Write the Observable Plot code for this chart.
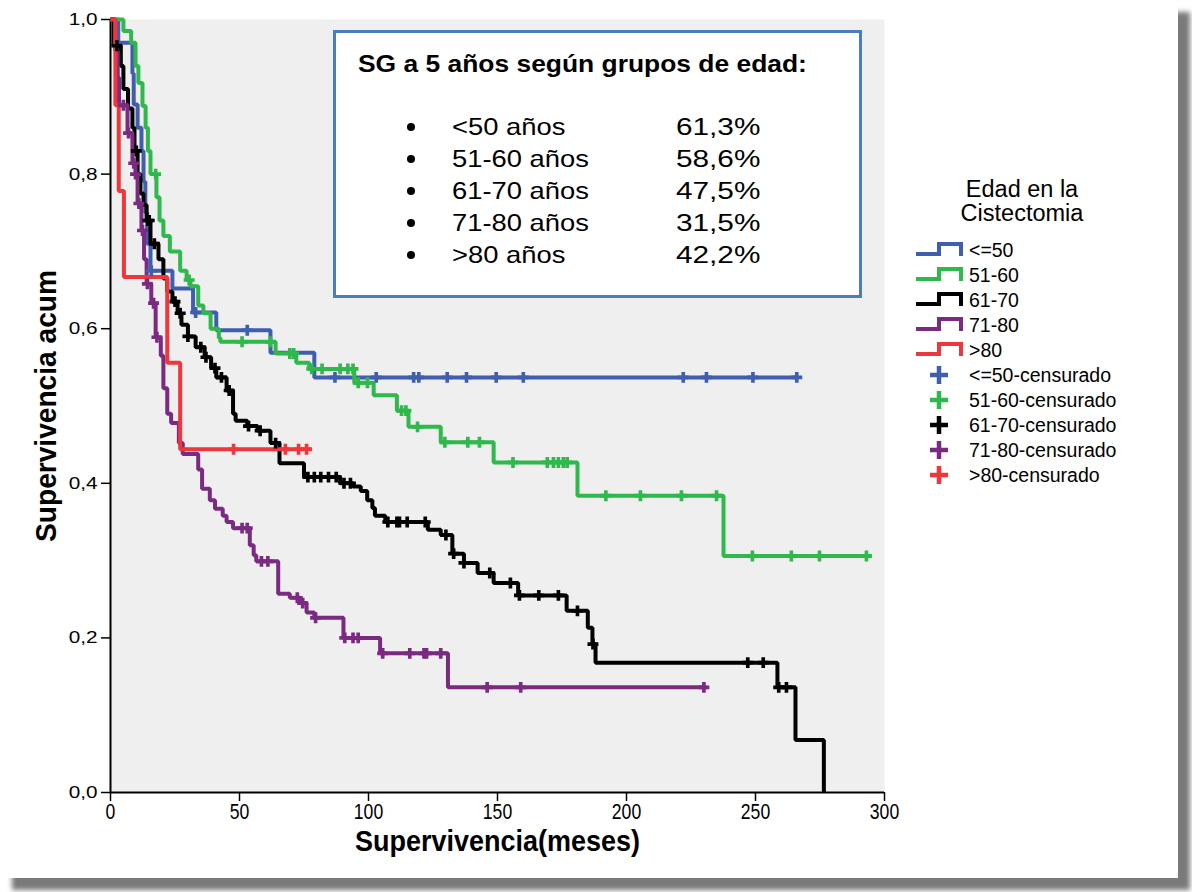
<!DOCTYPE html>
<html>
<head>
<meta charset="utf-8">
<script src="https://cdn.jsdelivr.net/npm/d3@7"></script>
<script src="https://cdn.jsdelivr.net/npm/@observablehq/plot@0.6"></script>
<style>
  html, body { margin: 0; padding: 0; background: #ffffff; }
  body { width: 1192px; height: 892px; position: relative; overflow: hidden; font-family: "Liberation Sans", Arial, sans-serif; }
  #page { position: absolute; left: 0; top: 0; width: 1178px; height: 878px; background: #fff; box-shadow: 12px 12px 5px #7a7a7a; }
  #chart { position: absolute; left: 0; top: 0; }
  #box { position: absolute; left: 333px; top: 30px; width: 523px; height: 262px; border: 3.5px solid #4a7dbd; background: #fff; color: #000; }
  #box .title { position: absolute; left: 22px; top: 17px; font-weight: bold; font-size: 24px; white-space: nowrap; transform: scaleX(1.1); transform-origin: left center; }
  #box .row { position: absolute; left: 0; font-size: 24px; white-space: nowrap; height: 26px; line-height: 26px; }
  #box .row .dot { position: absolute; left: 71px; top: 9px; width: 8px; height: 8px; border-radius: 50%; background: #000; }
  #box .row .lab { position: absolute; left: 116px; transform: scaleX(1.14); transform-origin: left center; }
  #box .row .val { position: absolute; left: 340px; transform: scaleX(1.24); transform-origin: left center; }
  #legend { position: absolute; left: 910px; top: 177px; width: 230px; }
  #legend .ttl { position: absolute; left: 0; width: 224px; text-align: center; font-size: 23.5px; line-height: 24px; }
  #legend .item { position: absolute; left: 0; height: 22px; font-size: 19.5px; line-height: 22px; white-space: nowrap; }
  #legend .item svg { position: absolute; left: 0; top: 0; }
  #legend .item span { position: absolute; left: 59px; }
</style>
</head>
<body>
<div id="page"></div>
<div id="chart"></div>
<div id="box"></div>
<div id="legend"></div>
<script>
// Age groups and their colours
const groups = ["<=50", "51-60", "61-70", "71-80", ">80"];
const colors = ["#3f5fae", "#2fb84b", "#000000", "#7b2a82", "#f0363d"];

// Kaplan–Meier steps per group: event times (months) and survival after each step
const t50 = [0, 3, 8.5, 9, 10.5, 12, 12.8, 13.5, 14.2, 15.5, 24, 32, 41, 62, 79];
const s50 = [1, 0.97, 0.93, 0.89, 0.86, 0.83, 0.79, 0.75, 0.71, 0.675, 0.652, 0.621, 0.598, 0.569, 0.537];
const c50 = [15.8, 33, 53, 87, 103, 117.5, 119.5, 130.5, 138, 149.5, 160, 222, 231, 249, 266];
const end50 = 266;

const t60 = [0, 5, 8, 9.7, 10.8, 12.4, 13.6, 14.5, 15.5, 17.8, 19, 20.5, 23, 27, 29.5, 31, 34, 36, 38.8, 42, 42.6, 64, 72, 77, 94.5, 102, 111, 115.5, 128, 148.5, 181, 237.6];
const s60 = [1, 0.985, 0.97, 0.94, 0.918, 0.888, 0.86, 0.83, 0.80, 0.77, 0.74, 0.72, 0.70, 0.675, 0.663, 0.655, 0.63, 0.62, 0.60, 0.588, 0.583, 0.568, 0.556, 0.548, 0.53, 0.514, 0.494, 0.473, 0.453, 0.427, 0.384, 0.306];
const c60 = [17.5, 30.5, 51, 62, 69.5, 71, 78, 82, 89, 92, 94, 96, 99.6, 112.8, 114.5, 119, 129.6, 138.5, 143, 156, 169.3, 171.7, 173.6, 175.5, 177, 192, 205.4, 221.3, 234.9, 248.8, 263.9, 274.8, 293];
const end60 = 295;

const t70 = [0, 1.2, 4, 5, 6.8, 8.5, 9.3, 10.5, 11.6, 12.8, 14, 15.5, 18.6, 20.5, 22, 24, 26, 27.5, 30, 33, 36.5, 39, 41, 45, 47.5, 48.5, 53, 57, 62, 65.5, 75, 89, 94, 97, 99.5, 101.5, 102.5, 106.5, 123, 128, 132.5, 137, 142.3, 148.5, 158, 176.8, 185, 186.8, 188, 258.5, 265.5, 276.5];
const s70 = [1, 0.966, 0.94, 0.91, 0.885, 0.86, 0.83, 0.80, 0.775, 0.76, 0.74, 0.71, 0.69, 0.665, 0.648, 0.635, 0.62, 0.605, 0.59, 0.576, 0.563, 0.549, 0.537, 0.52, 0.49, 0.481, 0.474, 0.468, 0.452, 0.426, 0.408, 0.40, 0.396, 0.39, 0.378, 0.368, 0.358, 0.35, 0.34, 0.333, 0.309, 0.297, 0.284, 0.271, 0.255, 0.235, 0.213, 0.192, 0.168, 0.136, 0.068, 0];
const c70 = [2.5, 10, 14.5, 15, 17, 25, 27, 30, 35, 37, 40.5, 43, 46, 53.5, 58, 64, 76.5, 79, 81.5, 84.5, 87.5, 90.5, 93, 107.5, 111, 112, 115, 122, 130, 133, 137, 147, 155, 158.5, 166, 173.6, 181, 187, 247, 253, 259, 262];
const end70 = 276.5;

const t80 = [0, 1.8, 2.8, 3.3, 6.6, 8.5, 9.7, 10.5, 12, 13, 14, 15.8, 17.5, 19.5, 20.5, 22, 23.5, 26.5, 28, 34, 35.5, 38.5, 40.5, 43.5, 45, 47.5, 54, 55.5, 56.5, 65, 69.5, 73.5, 76, 79, 90.3, 104.5, 130.8];
const s80 = [1, 0.96, 0.925, 0.889, 0.853, 0.814, 0.80, 0.762, 0.727, 0.69, 0.658, 0.633, 0.589, 0.565, 0.523, 0.49, 0.478, 0.452, 0.438, 0.418, 0.393, 0.378, 0.367, 0.358, 0.35, 0.342, 0.32, 0.307, 0.299, 0.257, 0.252, 0.245, 0.233, 0.226, 0.2, 0.18, 0.136];
const c80 = [5, 7, 9, 9.7, 11, 12.4, 14.3, 16.7, 18, 51, 53, 58.5, 61, 72.4, 74.5, 79.5, 90.8, 94, 96, 105.5, 116, 121.5, 122.5, 128, 146, 159, 230];
const end80 = 231;

const t81 = [0, 1.9, 3.2, 5.2, 22, 27];
const s81 = [1, 0.889, 0.778, 0.667, 0.556, 0.444];
const c81 = [47.7, 67.8, 72.9, 76];
const end81 = 78;

// Axis ticks and titles
const xTicks = [0, 50, 100, 150, 200, 250, 300];
const yTicks = [0, 0.2, 0.4, 0.6, 0.8, 1.0];
const xTitle = "Supervivencia(meses)";
const yTitle = "Supervivencia acum";

// 5-year overall survival summary
const summaryTitle = "SG a 5 años según grupos de edad:";
const summaryLabels = ["<50 años", "51-60 años", "61-70 años", "71-80 años", ">80 años"];
const summaryValues = ["61,3%", "58,6%", "47,5%", "31,5%", "42,2%"];

const series = [
  {g: groups[0], t: t50, s: s50, c: c50, end: end50},
  {g: groups[1], t: t60, s: s60, c: c60, end: end60},
  {g: groups[2], t: t70, s: s70, c: c70, end: end70},
  {g: groups[3], t: t80, s: s80, c: c80, end: end80},
  {g: groups[4], t: t81, s: s81, c: c81, end: end81}
];

// survival value of a step curve at time x
function survAt(ts, ss, x) {
  let v = ss[0];
  for (let i = 0; i < ts.length; i++) if (ts[i] <= x) v = ss[i];
  return v;
}

const lineRows = [];
const censorRows = [];
for (const d of series) {
  d.t.forEach((t, i) => lineRows.push({group: d.g, t, s: d.s[i]}));
  if (d.end > d.t[d.t.length - 1]) lineRows.push({group: d.g, t: d.end, s: d.s[d.s.length - 1]});
  d.c.forEach(t => censorRows.push({group: d.g, t, s: survAt(d.t, d.s, t)}));
}

const fmt = v => v.toFixed(1).replace(".", ",");

const chart = Plot.plot({
  width: 900,
  height: 870,
  marginLeft: 110,
  marginRight: 16,
  marginTop: 19,
  marginBottom: 78,
  style: {background: "transparent", fontFamily: "Liberation Sans, Arial, sans-serif", color: "#000"},
  x: {domain: [0, 300]},
  y: {domain: [0, 1]},
  color: {domain: groups, range: colors},
  marks: [
    Plot.frame({fill: "#efefef", stroke: "none"}),
    Plot.axisY(yTicks, {tickSize: 9, tickPadding: 4, fontSize: 17, tickFormat: fmt, label: null, strokeWidth: 1.5}),
    Plot.axisX(xTicks, {tickSize: 9, tickPadding: 2, fontSize: 22, label: null, strokeWidth: 1.5}),
    Plot.ruleX([0], {stroke: "#000", strokeWidth: 2}),
    Plot.ruleY([0], {stroke: "#000", strokeWidth: 2}),
    Plot.line(lineRows, {x: "t", y: "s", z: "group", stroke: "group", curve: "step-after", strokeWidth: 4, strokeLinejoin: "miter", strokeLinecap: "butt"}),
    Plot.dot(censorRows, {x: "t", y: "s", fill: "group", symbol: "cross", r: 4.6, stroke: "none"}),
    Plot.text([xTitle], {frameAnchor: "bottom", dy: 58, fontSize: 30, fontWeight: "bold", textAnchor: "middle"}),
    Plot.text([yTitle], {frameAnchor: "left", dx: -64, rotate: -90, fontSize: 29, fontWeight: "bold", textAnchor: "middle"})
  ]
});
document.getElementById("chart").appendChild(chart);

// horizontal glyph scaling of SVG texts (narrow titles / wide y ticks)
function stretch(el, k) {
  const tr = el.getAttribute("transform");
  if (tr) el.setAttribute("transform", tr + ` scale(${k},1)`);
  else {
    const x = +el.getAttribute("x") || 0, y = +el.getAttribute("y") || 0;
    el.setAttribute("transform", `translate(${x},${y}) scale(${k},1)`);
    el.removeAttribute("x"); el.removeAttribute("y");
  }
}
chart.querySelectorAll('g[aria-label="y-axis tick label"] text').forEach(el => stretch(el, 1.22));
chart.querySelectorAll('g[aria-label="x-axis tick label"] text').forEach(el => stretch(el, 0.8));
chart.querySelectorAll("text").forEach(el => {
  if (el.textContent === xTitle) stretch(el, 0.9);
  if (el.textContent === yTitle) stretch(el, 0.97);
});

// summary box
const box = document.getElementById("box");
const ttl = document.createElement("div");
ttl.className = "title";
ttl.textContent = summaryTitle;
box.appendChild(ttl);
summaryLabels.forEach((lab, i) => {
  const row = document.createElement("div");
  row.className = "row";
  row.style.top = (81 + i * 32) + "px";
  row.innerHTML = `<div class="dot"></div><div class="lab"></div><div class="val"></div>`;
  row.querySelector(".lab").textContent = lab;
  row.querySelector(".val").textContent = summaryValues[i];
  box.appendChild(row);
});

// legend
const legend = document.getElementById("legend");
const lt = document.createElement("div");
lt.className = "ttl";
lt.innerHTML = "Edad en la<br>Cistectomia";
legend.appendChild(lt);
groups.forEach((g, i) => {
  const it = document.createElement("div");
  it.className = "item";
  it.style.top = (62 + i * 25) + "px";
  it.innerHTML = `<svg width="56" height="22"><path d="M6,15H29V5H51V17" fill="none" stroke="${colors[i]}" stroke-width="4" stroke-linejoin="miter"/></svg><span></span>`;
  it.querySelector("span").textContent = g;
  legend.appendChild(it);
});
groups.forEach((g, i) => {
  const it = document.createElement("div");
  it.className = "item";
  it.style.top = (187 + i * 25) + "px";
  it.innerHTML = `<svg width="56" height="22"><path d="M20,11H38M29,2V20" fill="none" stroke="${colors[i]}" stroke-width="4.5"/></svg><span></span>`;
  it.querySelector("span").textContent = g + "-censurado";
  legend.appendChild(it);
});
</script>
</body>
</html>
